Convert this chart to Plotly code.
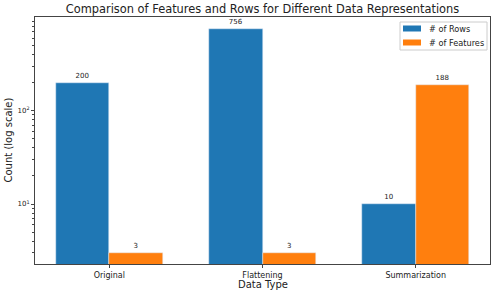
import plotly.graph_objects as go

categories = ["Original", "Flattening", "Summarization"]
rows = [200, 756, 10]
features = [3, 3, 188]
series_names = ["# of Rows", "# of Features"]
series_colors = ["#1f77b4", "#ff7f0e"]

fig = go.Figure()
for name, vals, col, off in [(series_names[0], rows, series_colors[0], -0.35),
                             (series_names[1], features, series_colors[1], 0)]:
    fig.add_trace(go.Bar(
        x=categories, y=vals, name=name, marker_color=col,
        offset=off, width=0.35, text=[str(v) for v in vals], textposition="outside",
        textfont=dict(size=7, color="#222"), cliponaxis=False))

minor_vals = [m * 10 ** e for e in range(0, 3) for m in range(2, 10)]

L, R, T, B = 35, 5, 17, 31
W, H = 495, 295
PW, PH = W - L - R, H - T - B


def px(x):
    return (x - L) / PW


def py(y):
    return (H - B - y) / PH


shapes = [dict(type="rect", xref="paper", yref="paper", x0=px(400), x1=px(487), y0=py(50), y1=py(22),
               fillcolor="rgba(255,255,255,0.8)", line=dict(color="#ccc", width=1), layer="above")]
annotations = [
    dict(text="Data Type", xref="paper", yref="paper", x=0.5, y=py(284),
         xanchor="center", yanchor="middle", showarrow=False, font=dict(size=10)),
    dict(text="Count (log scale)", xref="paper", yref="paper", x=px(8), y=0.5,
         xanchor="center", yanchor="middle", showarrow=False, textangle=-90, font=dict(size=10)),
]
for i, (name, col) in enumerate(zip(series_names, series_colors)):
    yc = 28.5 + 14 * i
    shapes.append(dict(type="rect", xref="paper", yref="paper", x0=px(403), x1=px(421),
                       y0=py(yc + 3), y1=py(yc - 3), fillcolor=col, line=dict(width=0), layer="above"))
    annotations.append(dict(text=name, xref="paper", yref="paper", x=px(427), y=py(yc),
                            xanchor="left", yanchor="middle", showarrow=False, font=dict(size=8.2)))

fig.update_layout(
    width=W, height=H,
    margin=dict(l=L, r=R, t=T, b=B, autoexpand=False),
    paper_bgcolor="white", plot_bgcolor="white",
    font=dict(family="DejaVu Sans", color="#222"),
    title=dict(text="Comparison of Features and Rows for Different Data Representations",
               x=(L + W - R) / 2 / W, xanchor="center", y=1 - 9 / H, yanchor="middle",
               font=dict(size=11.4)),
    showlegend=False,
    bargap=0,
    shapes=shapes,
    annotations=annotations,
)
fig.update_xaxes(
    type="category", range=[-0.485, 2.485], automargin=False,
    showline=True, mirror=True, linecolor="#444", linewidth=1,
    ticks="outside", ticklen=3, tickcolor="#444", tickfont=dict(size=8),
    showgrid=False)
fig.update_yaxes(
    type="log", range=[0.357, 3.004], automargin=False,
    showline=True, mirror=True, linecolor="#444", linewidth=1,
    ticks="outside", ticklen=3, tickcolor="#444", tickfont=dict(size=7),
    tickvals=[10, 100], ticktext=["10<sup>1</sup>", "10<sup>2</sup>"],
    minor=dict(ticks="outside", ticklen=2, tickcolor="#444", tickvals=minor_vals, showgrid=False),
    showgrid=False, zeroline=False)

fig.write_html("out.html", config={"displayModeBar": False},
               post_script="document.body.style.margin='0';")
